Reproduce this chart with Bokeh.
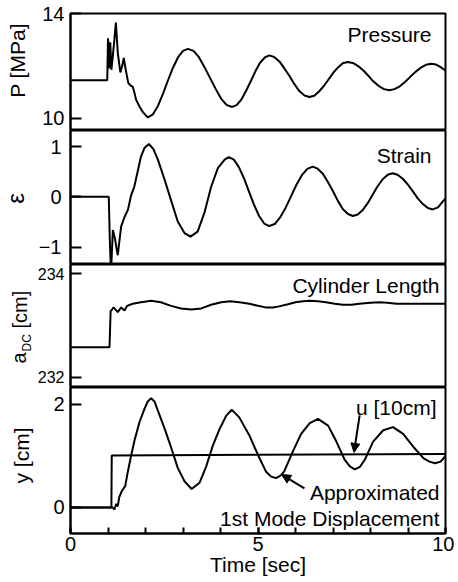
import math
from bokeh.plotting import figure
from bokeh.layouts import column, row
from bokeh.models import Range1d, FixedTicker, SingleIntervalTicker, Label, Arrow, NormalHead
from bokeh.embed import file_html
from bokeh.resources import INLINE

FONT = "Liberation Sans"

# ---------------- data ----------------
p_time = [0, 0.98, 1.00, 1.03, 1.06, 1.09, 1.13, 1.17, 1.21, 1.26, 1.33, 1.38, 1.42, 1.48, 1.54,
          1.60, 1.66, 1.70, 1.75, 1.84, 1.93, 2.06,
          2.20, 2.335, 2.47, 2.60, 2.73, 2.865, 3.00, 3.13,
          3.28, 3.425, 3.57, 3.72, 3.87, 4.015, 4.16, 4.31,
          4.43, 4.56, 4.68, 4.81, 4.93, 5.05, 5.18, 5.30,
          5.43, 5.57, 5.70, 5.84, 5.97, 6.10, 6.24, 6.37,
          6.50, 6.62, 6.75, 6.88, 7.01, 7.14, 7.26, 7.39,
          7.53, 7.67, 7.81, 7.95, 8.08, 8.22, 8.36, 8.50,
          8.64, 8.78, 8.92, 9.06, 9.20, 9.34, 9.48, 9.62,
          9.75, 9.87, 10.0]
p_val = [11.45, 11.45, 13.05, 11.9, 12.9, 11.85, 12.4, 13.0, 13.65, 12.5, 11.75, 12.0, 12.3, 11.8, 11.35,
         11.25, 11.2, 11.0, 10.7, 10.45, 10.23, 10.03,
         10.15, 10.48, 10.95, 11.45, 11.92, 12.32, 12.57, 12.65,
         12.57, 12.33, 11.96, 11.54, 11.12, 10.75, 10.51, 10.43,
         10.50, 10.72, 11.04, 11.42, 11.79, 12.11, 12.32, 12.40,
         12.34, 12.17, 11.91, 11.61, 11.30, 11.04, 10.87, 10.81,
         10.86, 11.01, 11.22, 11.48, 11.74, 11.95, 12.10, 12.15,
         12.11, 11.99, 11.82, 11.61, 11.40, 11.23, 11.11, 11.07,
         11.11, 11.22, 11.38, 11.58, 11.77, 11.93, 12.04, 12.08,
         12.05, 11.95, 11.82]

s_time = [0, 1.0, 1.02, 1.05, 1.08, 1.13, 1.19, 1.26, 1.35, 1.44, 1.53, 1.62, 1.70, 1.79, 1.88, 1.97,
          2.09, 2.21, 2.33, 2.51, 2.69, 2.86, 3.04, 3.20, 3.39, 3.57, 3.75, 3.93, 4.11, 4.22,
          4.355, 4.49, 4.625, 4.76, 4.895, 5.03, 5.165, 5.30,
          5.445, 5.59, 5.735, 5.88, 6.025, 6.17, 6.315, 6.46,
          6.59, 6.73, 6.86, 7.00, 7.13, 7.26, 7.40, 7.53,
          7.66, 7.795, 7.93, 8.06, 8.19, 8.325, 8.46, 8.59,
          8.72, 8.86, 8.99, 9.13, 9.26, 9.39, 9.53, 9.66,
          9.80, 9.93, 10.0]
s_val = [0, 0, 0, -0.9, -1.5, -0.66, -0.85, -1.16, -0.59, -0.40, -0.26, 0.04, 0.2, 0.5, 0.8, 0.97,
         1.05, 0.95, 0.74, 0.34, -0.09, -0.49, -0.72, -0.79, -0.69, -0.32, 0.2, 0.57, 0.74, 0.79,
         0.74, 0.59, 0.37, 0.105, -0.16, -0.38, -0.53, -0.58,
         -0.54, -0.41, -0.22, 0.01, 0.24, 0.43, 0.555, 0.60,
         0.56, 0.46, 0.30, 0.11, -0.08, -0.24, -0.34, -0.38,
         -0.35, -0.26, -0.12, 0.045, 0.21, 0.35, 0.44, 0.47,
         0.44, 0.36, 0.25, 0.11, -0.03, -0.14, -0.22, -0.25,
         -0.21, -0.09, -0.03]

c_time = [0, 1.04, 1.07, 1.10, 1.15, 1.26, 1.35, 1.44, 1.51, 1.66, 1.88, 2.15, 2.41, 2.68, 2.95,
          3.22, 3.49, 3.75, 4.02, 4.26, 4.50, 4.77, 5.00, 5.20, 5.40, 5.56, 5.80, 6.00, 6.20,
          6.37, 6.60, 6.81, 7.05, 7.26, 7.50, 7.70, 8.00, 8.24, 8.45, 8.69, 9.00, 9.22, 9.60, 10.0]
c_val = [232.58, 232.58, 233.28, 233.30, 233.35, 233.26, 233.35, 233.29, 233.38, 233.42, 233.45,
         233.48, 233.45, 233.38, 233.33, 233.31, 233.33, 233.40, 233.45, 233.47, 233.45, 233.42,
         233.38, 233.35, 233.35, 233.37, 233.41, 233.45, 233.47, 233.48, 233.47, 233.45, 233.42,
         233.40, 233.40, 233.42, 233.44, 233.45, 233.44, 233.42, 233.42, 233.42, 233.42, 233.42]

y_time = [0, 1.08, 1.13, 1.17, 1.22, 1.26, 1.30, 1.37, 1.46, 1.53, 1.62, 1.71, 1.84, 1.97, 2.06,
          2.15, 2.24, 2.33, 2.51, 2.69, 2.86, 3.04, 3.23, 3.44, 3.62, 3.80, 3.98, 4.15, 4.30,
          4.50, 4.77, 5.00, 5.21, 5.35, 5.48, 5.60, 5.70, 5.93, 6.15, 6.38, 6.60, 6.87, 7.09,
          7.31, 7.45, 7.58, 7.72, 7.85, 8.07, 8.34, 8.60, 8.87, 9.14, 9.41, 9.57, 9.72, 9.87, 10.0]
y_val = [0, 0, 0, -0.04, 0.07, 0.02, 0.2, 0.32, 0.42, 0.70, 1.02, 1.31, 1.66, 1.91, 2.06,
         2.12, 2.06, 1.88, 1.53, 1.15, 0.77, 0.51, 0.36, 0.48, 0.8, 1.21, 1.53, 1.78, 1.90,
         1.75, 1.40, 1.02, 0.70, 0.60, 0.57, 0.62, 0.70, 1.09, 1.43, 1.64, 1.72, 1.59, 1.28,
         0.93, 0.80, 0.74, 0.79, 0.93, 1.28, 1.50, 1.56, 1.43, 1.18, 0.96, 0.89, 0.86, 0.89, 1.0]

u_time = [0, 1.09, 1.10, 10.0]
u_val = [0, 0, 1.01, 1.04]

p_ticks = [10, 14]
s_ticks = [-1, 0, 1]
c_ticks = [232, 234]
y_ticks = [0, 2]

# ---------------- layout ----------------
xr = Range1d(0, 10)
LEFT_W = 34


def make_fig(frame_h, yr, ticks, tick_size, standoff, top=0, bottom=0, xaxis=False):
    p = figure(frame_width=375, frame_height=frame_h, x_range=xr, y_range=Range1d(*yr),
               output_backend="svg", toolbar_location=None,
               min_border_left=69 - LEFT_W, min_border_right=10,
               min_border_top=top, min_border_bottom=bottom,
               x_axis_location="below" if xaxis else None)
    p.xgrid.visible = False
    p.ygrid.visible = False
    p.outline_line_color = "black"
    p.outline_line_width = 2
    p.outline_line_alpha = 1
    p.background_fill_color = "white"
    p.border_fill_color = "white"
    ax = p.yaxis[0]
    ax.ticker = FixedTicker(ticks=ticks)
    ax.major_tick_in = 11
    ax.major_tick_out = 0
    ax.minor_tick_line_color = None
    ax.axis_line_width = 2
    ax.major_tick_line_width = 2
    ax.major_label_text_font = FONT
    ax.major_label_text_font_size = tick_size
    ax.major_label_text_color = "black"
    ax.major_label_standoff = standoff
    return p


def lab(p, text, x, y, size, align="right", baseline="alphabetic", angle=0.0, units="screen"):
    p.add_layout(Label(x=x, y=y, x_units=units, y_units=units, text=text,
                       text_font=FONT, text_font_size=size, text_align=align,
                       text_baseline=baseline, angle=angle, text_color="black"))


LW = 2

# Pressure
f1 = make_fig(117, (9.53, 14.0), p_ticks, "20px", 6, top=13)
f1.line(p_time, p_val, line_color="black", line_width=LW)
lab(f1, "Pressure", 361, 96, "21px")

# Strain
f2 = make_fig(134, (-1.344, 1.318), s_ticks, "20px", 9)
f2.yaxis[0].major_label_overrides = {-1: "\u22121"}
f2.line(s_time, s_val, line_color="black", line_width=LW)
lab(f2, "Strain", 361, 109, "21px")

# Cylinder length
f3 = make_fig(123, (231.80, 234.18), c_ticks, "16px", 6)
f3.line(c_time, c_val, line_color="black", line_width=LW)
lab(f3, "Cylinder Length", 369, 102, "21px")

# Displacement
f4 = make_fig(146, (-0.505, 2.33), y_ticks, "20px", 6, bottom=49, xaxis=True)
xa = f4.xaxis[0]
xa.ticker = SingleIntervalTicker(interval=5, num_minor_ticks=5)
xa.major_tick_in = 6
xa.major_tick_out = 0
xa.minor_tick_in = 6
xa.minor_tick_out = 0
xa.axis_line_width = 2
xa.major_tick_line_width = 2
xa.minor_tick_line_width = 2
xa.major_label_text_font = FONT
xa.major_label_text_font_size = "20px"
xa.major_label_text_color = "black"
xa.major_label_standoff = 3
xa.axis_label = "Time [sec]"
xa.axis_label_text_font = FONT
xa.axis_label_text_font_size = "21px"
xa.axis_label_text_font_style = "normal"
xa.axis_label_text_color = "black"
xa.axis_label_standoff = -1
f4.line(u_time, u_val, line_color="black", line_width=LW)
f4.line(y_time, y_val, line_color="black", line_width=LW)
lab(f4, "u [10cm]", 366, 126, "21px")
lab(f4, "Approximated", 369, 41, "21px")
lab(f4, "1st Mode Displacement", 369, 15, "21px")
f4.add_layout(Arrow(end=NormalHead(size=9, fill_color="black", line_color="black"),
                    x_start=7.71, y_start=1.79, x_end=7.56, y_end=1.07,
                    line_color="black", line_width=2))
f4.add_layout(Arrow(end=NormalHead(size=9, fill_color="black", line_color="black"),
                    x_start=6.24, y_start=0.37, x_end=5.63, y_end=0.64,
                    line_color="black", line_width=2))

# Left strip holding the rotated y-axis titles (page pixel coordinates)
lf = figure(frame_width=LEFT_W, frame_height=582, x_range=Range1d(0, LEFT_W), y_range=Range1d(582, 0),
            output_backend="svg", toolbar_location=None, min_border=0,
            min_border_left=0, min_border_right=0, min_border_top=0, min_border_bottom=0,
            x_axis_location=None, y_axis_location=None)
lf.xgrid.visible = False
lf.ygrid.visible = False
lf.outline_line_color = None
lf.background_fill_color = "white"
lf.border_fill_color = "white"
ROT = math.pi / 2
lab(lf, "P [MPa]", 17, 60, "21px", align="center", baseline="middle", angle=ROT, units="data")
lab(lf, "\u03b5", 15, 198, "24px", align="center", baseline="middle", angle=ROT, units="data")
lab(lf, "a", 18, 363, "20px", align="left", baseline="middle", angle=ROT, units="data")
lab(lf, "DC", 26, 351, "12px", align="left", baseline="middle", angle=ROT, units="data")
lab(lf, "[cm]", 19, 328, "20px", align="left", baseline="middle", angle=ROT, units="data")
lab(lf, "y [cm]", 21, 455, "21px", align="center", baseline="middle", angle=ROT, units="data")

layout = row(lf, column(f1, f2, f3, f4, spacing=0), spacing=0)

with open("out.html", "w") as fh:
    fh.write(file_html(layout, INLINE))
